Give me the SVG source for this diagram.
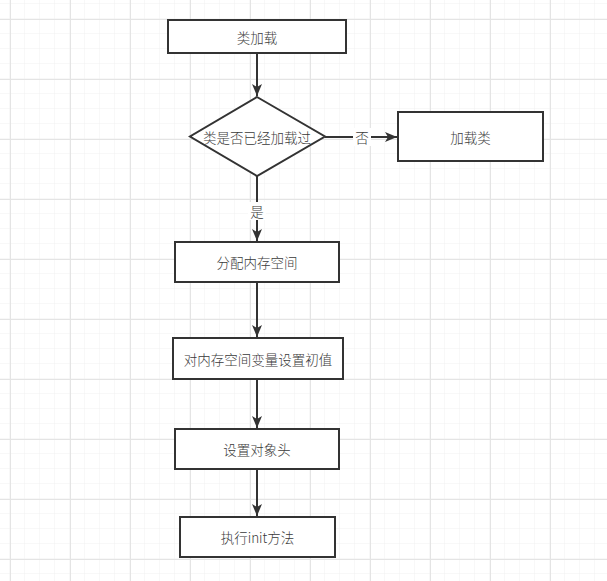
<svg xmlns="http://www.w3.org/2000/svg" width="607" height="581" viewBox="0 0 607 581">
<defs>
<pattern id="minor" width="15" height="15" patternUnits="userSpaceOnUse" x="10" y="4">
<path d="M15 0V15M0 15H15" fill="none" stroke="#f1f1f1" stroke-width="1"/>
</pattern>
<pattern id="major" width="60" height="60" patternUnits="userSpaceOnUse" x="10" y="19">
<path d="M0.5 0V60M0 0.5H60" fill="none" stroke="#e4e4e4" stroke-width="1"/>
</pattern>
<marker id="arr" markerWidth="12" markerHeight="10" refX="12" refY="5" orient="auto" markerUnits="userSpaceOnUse">
<path d="M0 0L12 5L0 10L3 5Z" fill="#333"/>
</marker>
<style>
.n{fill:#fff;stroke:#333;stroke-width:2}
.t{font-family:"Noto Sans CJK SC","Liberation Sans",sans-serif;font-size:13.5px;font-weight:300;fill:#3a3a3a;text-anchor:middle;dominant-baseline:central}
.e{fill:none;stroke:#333;stroke-width:2;marker-end:url(#arr)}
.lb{fill:#fff}
</style>
</defs>
<rect width="607" height="581" fill="#fff"/>
<rect width="607" height="581" fill="url(#minor)"/>
<rect width="607" height="581" fill="url(#major)"/>
<g id="connectors">
<path class="e" d="M257 53V96"/>
<path class="e" d="M325 137H397"/>
<path class="e" d="M257 176V241"/>
<path class="e" d="M257 282V337"/>
<path class="e" d="M257 379V428"/>
<path class="e" d="M257 469V516"/>
<rect class="lb" x="353" y="128" width="18" height="18"/>
<text class="t" x="362" y="137">否</text>
<rect class="lb" x="248" y="202" width="18" height="18"/>
<text class="t" x="257" y="211">是</text>
</g>
<g id="n1"><rect class="n" x="168" y="20" width="178" height="33"/><text class="t" x="257" y="36.5">类加载</text></g>
<g id="n2"><path class="n" d="M257 97L325 136.5L257 176L190 136.5Z"/><text class="t" x="257" y="136.5">类是否已经加载过</text></g>
<g id="n3"><rect class="n" x="398" y="112" width="145" height="49"/><text class="t" x="470.5" y="136.5">加载类</text></g>
<g id="n4"><rect class="n" x="175" y="242" width="164" height="40"/><text class="t" x="257" y="262">分配内存空间</text></g>
<g id="n5"><rect class="n" x="173" y="338" width="170" height="41"/><text class="t" x="258" y="358.5">对内存空间变量设置初值</text></g>
<g id="n6"><rect class="n" x="175" y="429" width="164" height="40"/><text class="t" x="257" y="449">设置对象头</text></g>
<g id="n7"><rect class="n" x="180" y="517" width="155" height="40"/><text class="t" x="257.5" y="537">执行init方法</text></g>
</svg>
